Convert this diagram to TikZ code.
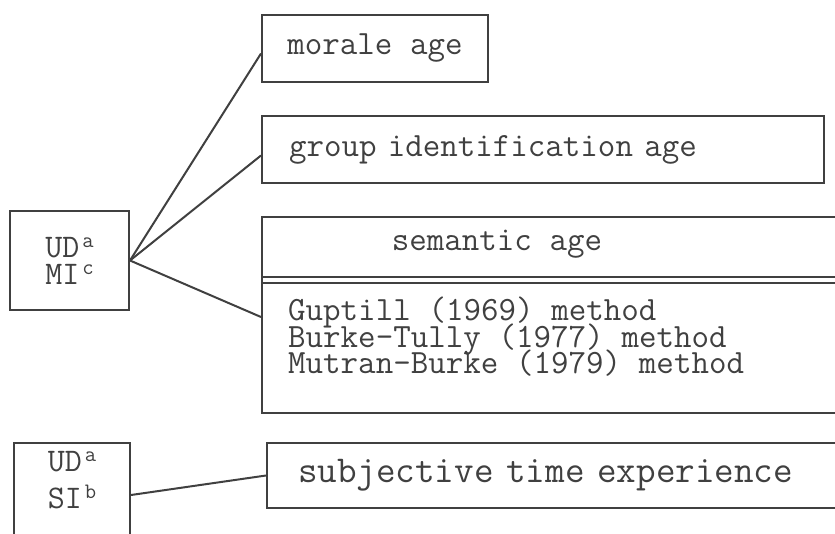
\documentclass[tikz,border=0pt]{standalone}
\usetikzlibrary{positioning}

\newcommand{\boxfont}{\ttfamily\fontsize{34}{26.5}\selectfont\spaceskip=0.525em\lineskiplimit=-50pt}
\newcommand{\bigboxfont}{\ttfamily\fontsize{38}{30}\selectfont\spaceskip=0.525em}
\newcommand{\labfont}{\ttfamily\fontsize{33}{27}\selectfont\lineskiplimit=-50pt}
\newcommand{\silabfont}{\ttfamily\fontsize{33}{37}\selectfont}
\newcommand{\sups}[1]{\hspace{3pt}\raisebox{10pt}{\fontsize{22}{22}\selectfont#1}}

\begin{document}
\begin{tikzpicture}[
    x=1pt, y=-1pt,
    frame/.style={draw=black!75, line width=2pt},
    box/.style={frame, font=\boxfont, text=black!75, inner sep=0pt, minimum height=67},
    txt/.style={font=\boxfont, text=black!75, inner sep=0pt},
    link/.style={draw=black!75, line width=2pt}
]
\useasboundingbox (0,0) rectangle (835,533);
\clip (0,0) rectangle (835,533);

% right column
\node[box, anchor=north west, minimum width=226] (morale) at (261,14) {morale age};
\node[box, below=32pt of morale.south west, anchor=north west,
      align=left, text width=508, inner xsep=27] (group) {group identification age};
\node[frame, below=32pt of group.south west, anchor=north west,
      minimum width=590, minimum height=196, inner sep=0pt] (sem) {};
\node[txt] (semtitle) at (497,244) {semantic age};
\node[txt, anchor=west, align=left] (methods) at (288,337)
    {Guptill (1969) method\\Burke-Tully (1977) method\\Mutran-Burke (1979) method};
% double rule under the title
\draw[frame] ([yshift=-61]sem.north west) -- ([yshift=-61]sem.north east);
\draw[frame] ([yshift=-67]sem.north west) -- ([yshift=-67]sem.north east);

\node[box, anchor=north west, font=\bigboxfont, minimum height=65,
      align=left, text width=560, inner xsep=31] (subj) at (266,442) {subjective time experience};

% left column
\node[box, font=\labfont, align=left, minimum width=119, minimum height=99] (mi) at (69.5,260.5)
    {UD\sups{a}\\MI\sups{c}};
\node[box, font=\silabfont, align=left, anchor=north west,
      minimum width=116, minimum height=104, text depth=30] (si) at (13,442)
    {UD\sups{a}\\SI\sups{b}};

% connectors
\draw[link] (mi.east) -- ([yshift=-5]morale.west);
\draw[link] (mi.east) -- ([yshift=-6]group.west);
\draw[link] (mi.east) -- ([yshift=-2]sem.west);
\draw[link] (si.east) -- (subj.west);
\end{tikzpicture}
\end{document}
